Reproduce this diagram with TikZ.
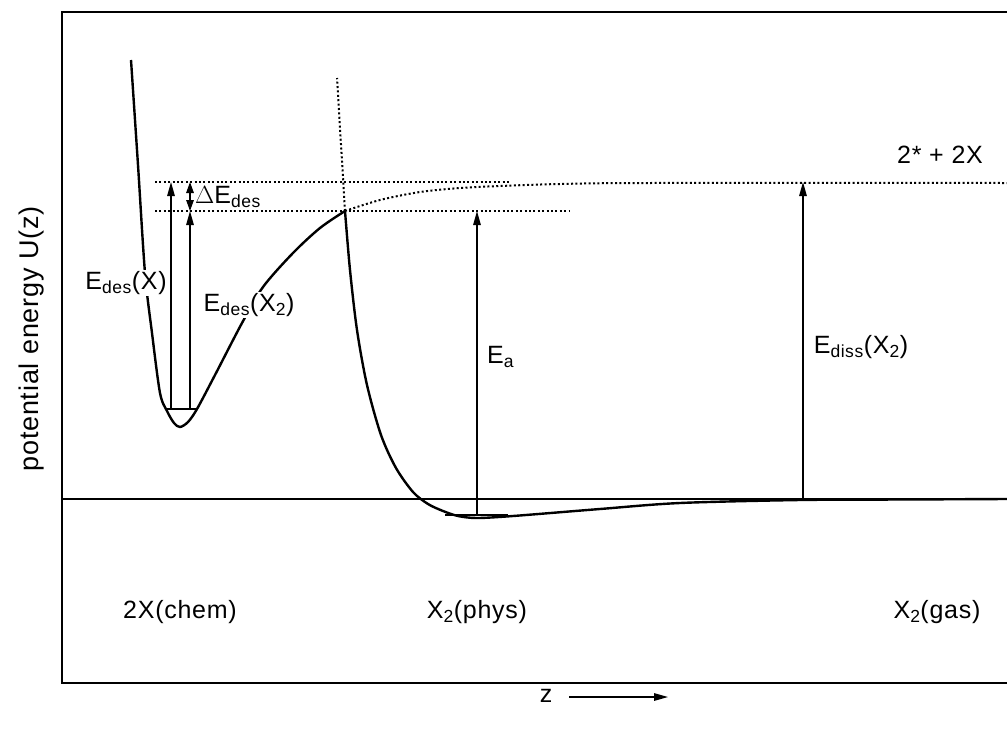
\documentclass[tikz,border=0pt]{standalone}
\usepackage{fontspec}
\setmainfont{Liberation Sans}[LetterSpace=3]
\usepackage{tikz}
\usetikzlibrary{arrows.meta,positioning,calc}

\begin{document}
\begin{tikzpicture}[
  x=1pt,y=-1pt,
  font=\fontsize{25}{29}\selectfont,
  every node/.style={inner sep=0pt},
  frame/.style={line width=2.2pt},
  curve/.style={line width=2.4pt,line join=round},
  guide/.style={line width=2pt,dash pattern=on 2pt off 2.4pt},
  arr/.style={-{Triangle[length=14pt,width=7.5pt]},line width=1.4pt},
  darr/.style={{Triangle[length=11pt,width=7.5pt]}-{Triangle[length=11pt,width=7.5pt]},line width=1.4pt},
  level/.style={line width=1.4pt},
  lbl/.style={fill=white,inner sep=1pt}
]
\useasboundingbox (0,0) rectangle (1007,731);

% frame and zero level
\coordinate (tl) at (62,12);
\coordinate (bl) at (62,683);
\coordinate (tr) at (1007,12);
\coordinate (br) at (1007,683);
\coordinate (zl) at (62,499);
\coordinate (zr) at (1007,499);
\draw[frame] (tr) -- (tl) -- (bl) -- (br);
\draw[frame] (zl) -- (zr);

% energy levels
\coordinate (top)   at (155,182);
\coordinate (topr)  at (510,182);
\coordinate (bar)   at (345,211);
\coordinate (barl)  at (155,211);
\coordinate (barr)  at (569,211);
\coordinate (ctop)  at (337,78);
\draw[guide] (top) -- (topr);
\draw[guide] (barl) -- (barr);
\draw[guide] (bar) -- (ctop);
\draw[guide] plot[smooth] coordinates {(345,211) (380,200) (420,192) (460,188) (500,186) (560,184) (650,183) (1007,183)};

% chemisorption well
\draw[curve] plot[smooth] coordinates {(131,60) (138,165) (145,273) (152,333) (160,393) (167,411) (174,423) (180,427) (188,422) (197,409) (215,375) (242,323) (263,287) (293,253) (320,228) (345,211)};
\coordinate (cw1) at (167,409);
\coordinate (cw2) at (197,409);
\draw[level] (cw1) -- (cw2);

% physisorption well
\draw[curve] plot[smooth] coordinates {(345,211) (350,270) (357,330) (367,385) (381,435) (396,468) (413,492) (428,504) (443,511) (458,516) (477,518) (513,516) (600,509) (680,503) (800,500) (900,499.5) (1007,499)};
\coordinate (pw1) at (445,515);
\coordinate (pw2) at (508,515);
\draw[level] (pw1) -- (pw2);

% energy arrows
\coordinate (xa)  at (171,409);
\coordinate (xb)  at (171,182);
\coordinate (ya)  at (190,409);
\coordinate (yb)  at (190,211);
\coordinate (dtop) at (190,182);
\coordinate (ea)  at (477,516);
\coordinate (eb)  at (477,211);
\coordinate (da)  at (803,499);
\coordinate (db)  at (803,182);
\draw[arr] (xa) -- (xb);
\draw[arr] (ya) -- (yb);
\draw[darr] (yb) -- (dtop);
\draw[arr] (ea) -- (eb);
\draw[arr] (da) -- (db);

% labels
\node[anchor=west] (dE)    at (195,197) {$\Delta$E\textsubscript{des}};
\node[lbl] (EdesX)  at (126,283) {E\textsubscript{des}(X)};
\node[lbl] (EdesX2) at (249,305) {E\textsubscript{des}(X\textsubscript{2})};
\node[anchor=west] (Ea) at (487,357) {E\textsubscript{a}};
\node (Ediss)  at (861,347) {E\textsubscript{diss}(X\textsubscript{2})};
\node (gasdiss) at (940,155) {2* + 2X};
\node (chem)   at (180,612) {2X(chem)};
\node (phys)   at (477,612) {X\textsubscript{2}(phys)};
\node (gas)    at (937,612) {X\textsubscript{2}(gas)};
\node[rotate=90,font=\fontsize{27}{31}\selectfont] (ylab) at (32,339) {potential energy U(z)};
\node (zlab)   at (546,696) {z};
\coordinate (zs) at (569,697);
\coordinate (ze) at (668,697);
\draw[arr] (zs) -- (ze);
\end{tikzpicture}
\end{document}
